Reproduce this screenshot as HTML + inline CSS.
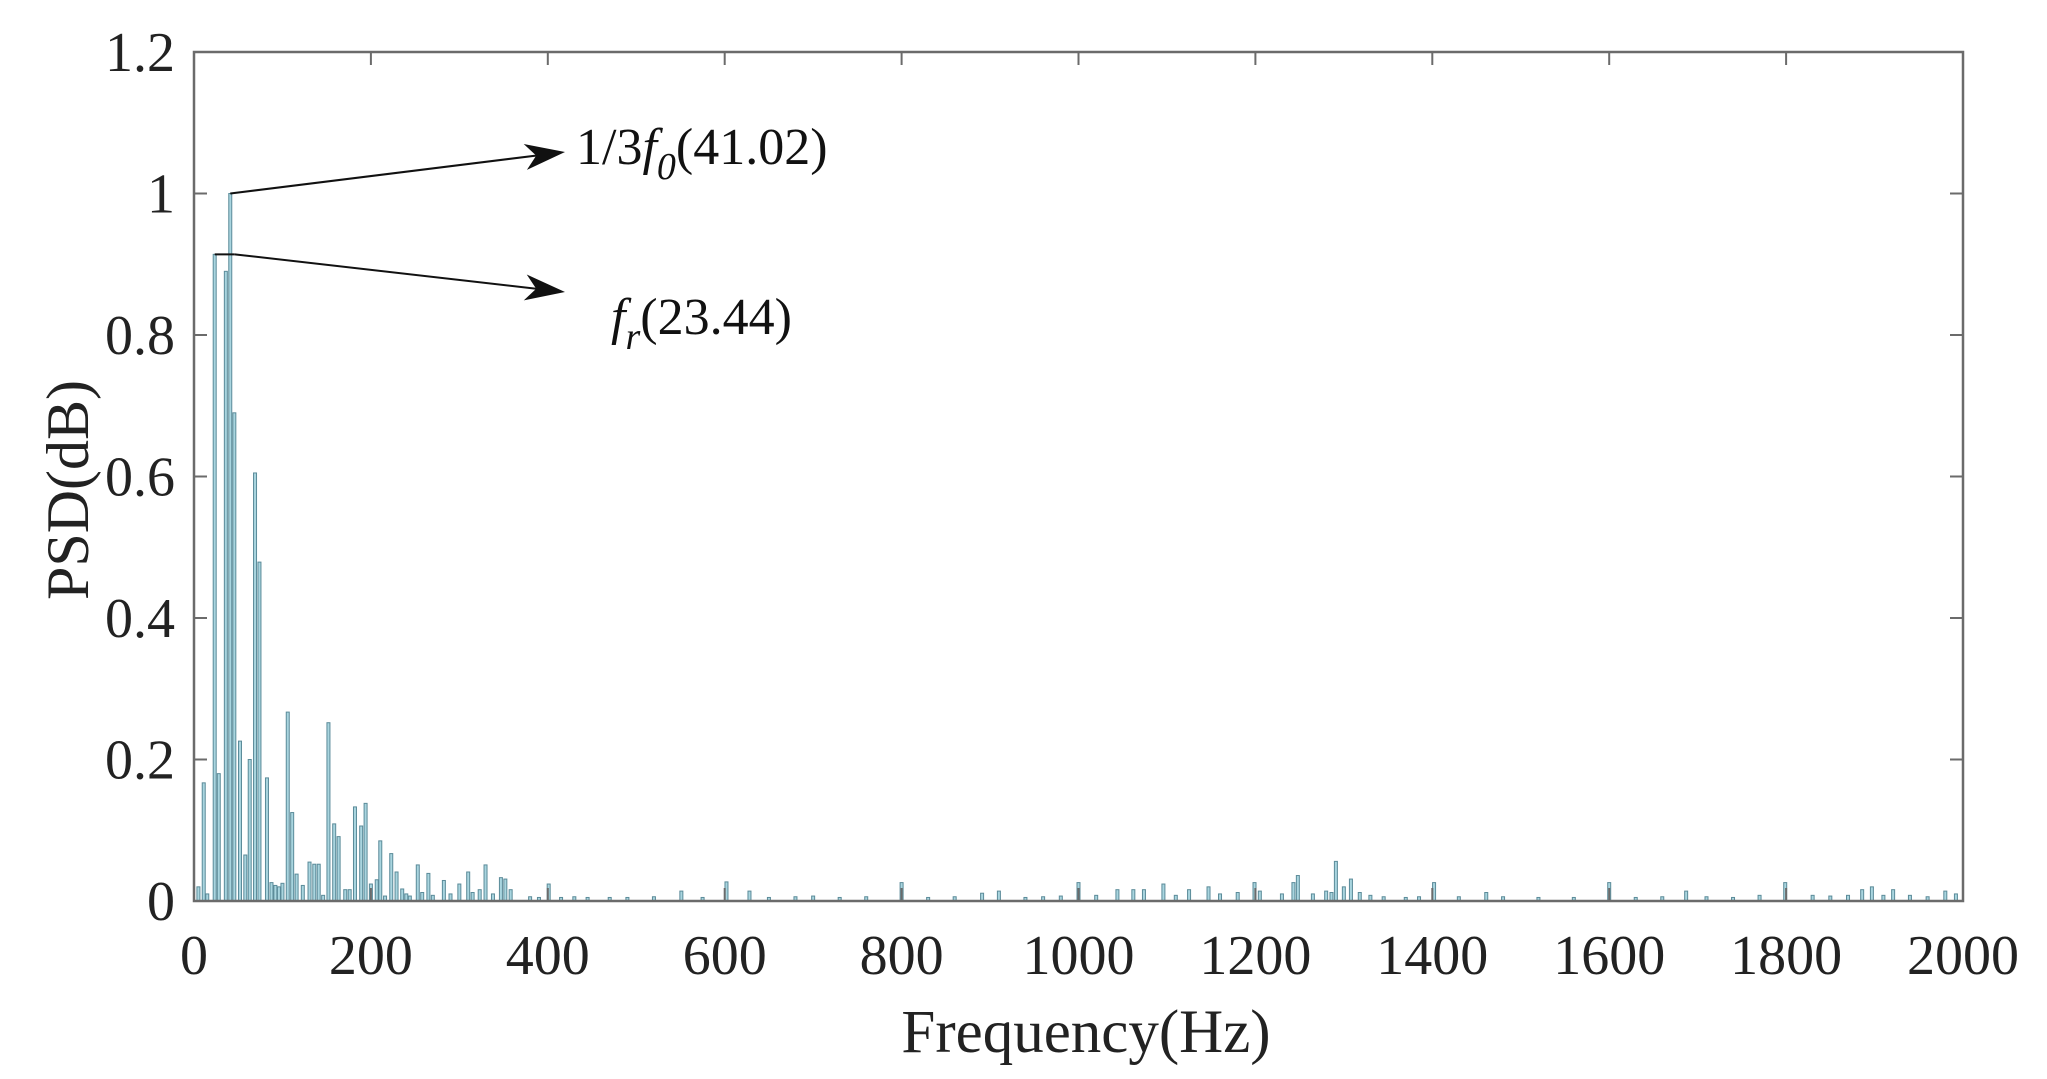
<!DOCTYPE html>
<html><head><meta charset="utf-8"><style>
html,body{margin:0;padding:0;background:#fff;}
svg{display:block;font-family:"Liberation Serif",serif;}
</style></head><body>
<svg id="chart" width="2047" height="1079" viewBox="0 0 2047 1079">
<g id="bars"></g>
<g id="axes"></g>
<g id="annot"></g>
</svg>
<script>
const freqs = [5,11,15,23.4,28,36,41,45.6,52,58,63,69,74,82.5,87.6,92,96,100,106,111,116,123,130.6,136,141,146,152,158.5,163.5,171,176,182,189,194,200,206.6,210.6,216,223,229,235.4,240,244,253,258,265,270,282.5,290,300,310,315,323,329.6,338,347,352,358,380,390,401,415,430,445,470,490,520,551,575,602,628,650,680,700,730,760,800,830,860,891,910,940,960,980,1000,1020,1044,1062,1074,1096,1110,1125,1147,1160,1180,1199,1205,1230,1243,1248,1265,1280,1286,1291,1300,1308,1318,1330,1345,1370,1385,1402,1430,1461,1480,1520,1560,1600,1630,1660,1687,1710,1740,1770,1799,1830,1850,1870,1886,1897,1910,1921,1940,1960,1980,1992];
const psd = [0.02,0.167,0.01,0.914,0.18,0.89,1.0,0.69,0.226,0.065,0.2,0.605,0.479,0.174,0.026,0.022,0.02,0.025,0.267,0.125,0.038,0.022,0.055,0.052,0.052,0.008,0.252,0.109,0.091,0.016,0.016,0.133,0.106,0.138,0.024,0.03,0.085,0.007,0.067,0.041,0.017,0.01,0.007,0.051,0.012,0.039,0.008,0.029,0.01,0.024,0.041,0.012,0.016,0.051,0.01,0.033,0.031,0.016,0.006,0.005,0.024,0.005,0.006,0.005,0.005,0.005,0.006,0.014,0.005,0.027,0.014,0.005,0.006,0.007,0.005,0.006,0.026,0.005,0.006,0.011,0.014,0.005,0.006,0.007,0.026,0.008,0.016,0.016,0.016,0.024,0.008,0.016,0.02,0.01,0.012,0.026,0.014,0.01,0.026,0.036,0.01,0.014,0.012,0.056,0.02,0.031,0.012,0.008,0.006,0.005,0.006,0.026,0.006,0.012,0.006,0.005,0.005,0.026,0.005,0.006,0.014,0.006,0.005,0.008,0.026,0.008,0.007,0.008,0.016,0.02,0.008,0.016,0.008,0.006,0.014,0.01];
const xTicks = [0,200,400,600,800,1000,1200,1400,1600,1800,2000];
const yTicks = [0,0.2,0.4,0.6,0.8,1,1.2];
const yTickLabels = ["0","0.2","0.4","0.6","0.8","1","1.2"];

const L=194,R=1963,T=52,B=901;
const X = f => L + f/2000*(R-L);
const Y = v => B - v/1.2*(B-T);
const NS="http://www.w3.org/2000/svg";
function mk(tag, attrs, parent){const e=document.createElementNS(NS,tag);for(const k in attrs)e.setAttribute(k,attrs[k]);parent.appendChild(e);return e;}
const bars=document.getElementById('bars'), axes=document.getElementById('axes'), annot=document.getElementById('annot');

freqs.forEach((f,i)=>{
  const y=Y(psd[i]);
  const r=mk('rect',{x:X(f)-1.5,y:y,width:3,height:Math.max(B-y,1),fill:'#a9d5df',stroke:'#5b8b99','stroke-width':1},bars);
  
  
});

const frame=mk('rect',{x:L,y:T,width:R-L,height:B-T,fill:'none',stroke:'#6b6b6b','stroke-width':2.5},axes);



xTicks.forEach(t=>{
  const x=X(t);
  mk('line',{x1:x,y1:B,x2:x,y2:B-13,stroke:'#6b6b6b','stroke-width':2},axes);
  mk('line',{x1:x,y1:T,x2:x,y2:T+13,stroke:'#6b6b6b','stroke-width':2},axes);
  const tx=mk('text',{x:x,y:974,'text-anchor':'middle','font-size':56,fill:'#222'},axes);
  tx.textContent=String(t);
  
  
});
yTicks.forEach((t,i)=>{
  const y=Y(t);
  mk('line',{x1:L,y1:y,x2:L+13,y2:y,stroke:'#6b6b6b','stroke-width':2},axes);
  mk('line',{x1:R,y1:y,x2:R-13,y2:y,stroke:'#6b6b6b','stroke-width':2},axes);
  const tx=mk('text',{x:175,y:y+19,'text-anchor':'end','font-size':56,fill:'#222'},axes);
  tx.textContent=yTickLabels[i];
  
  
});

const xt=mk('text',{x:1086,y:1052,'text-anchor':'middle','font-size':61,fill:'#222'},axes);
xt.textContent='Frequency(Hz)';


const yt=mk('text',{x:0,y:0,'text-anchor':'middle','font-size':60,fill:'#222',transform:'translate(88,490) rotate(-90)'},axes);
yt.textContent='PSD(dB)';



function arrow(x1,y1,x2,y2,name){
  const g=mk('g',{},annot);
  
  
  mk('line',{x1:x1,y1:y1,x2:x2-20,y2:y2+(y1-y2)*20/(x2-x1),stroke:'#111','stroke-width':2},g);
  const ang=Math.atan2(y2-y1,x2-x1);
  const c=Math.cos(ang),s=Math.sin(ang);
  const p=(dx,dy)=>(x2+dx*c-dy*s)+','+(y2+dx*s+dy*c);
  mk('polygon',{points:[p(0,0),p(-40,-13),p(-29,0),p(-40,13)].join(' '),fill:'#111'},g);
}
const f0x=X(41), f0y=Y(1.0), frx=X(23.4), fry=Y(0.914);
arrow(f0x,f0y,565,152,'f0-arrow');
const g2=mk('polyline',{points:frx+','+fry+' '+(frx+20)+','+fry,fill:'none',stroke:'#111','stroke-width':2},annot);


arrow(frx+20,fry,565,292,'fr-arrow');

const t1=mk('text',{x:576,y:164,'font-size':52,fill:'#111'},annot);
t1.innerHTML='1/3<tspan font-style="italic">f</tspan><tspan font-style="italic" font-size="38" dy="15">0</tspan><tspan dy="-15">(41.02)</tspan>';


const t2=mk('text',{x:611,y:334,'font-size':52,fill:'#111'},annot);
t2.innerHTML='<tspan font-style="italic">f</tspan><tspan font-style="italic" font-size="38" dy="15">r</tspan><tspan dy="-15">(23.44)</tspan>';


</script>
</body></html>
